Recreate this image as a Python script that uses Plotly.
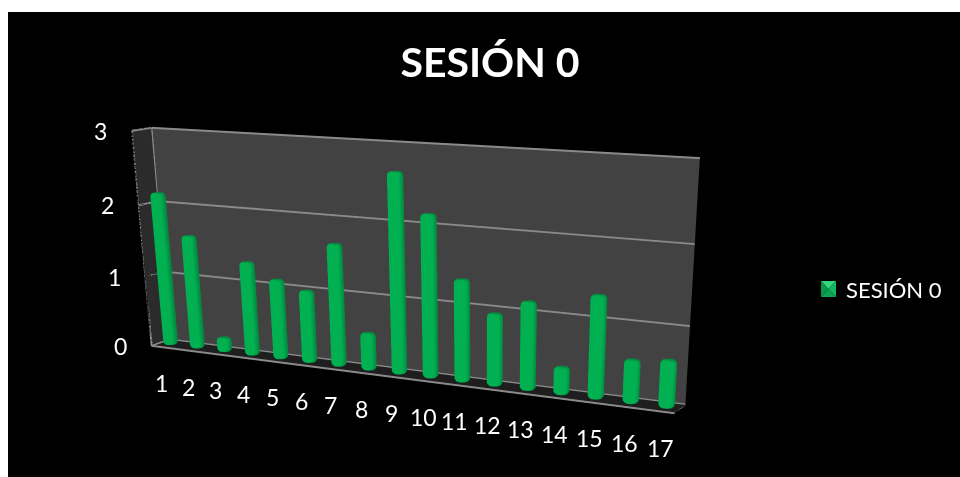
import math
import plotly.graph_objects as go

categories = list(range(1, 18))
values = [2.15, 1.59, 0.19, 1.3, 1.1, 0.99, 1.66, 0.5, 2.65, 2.15, 1.35, 0.95, 1.15, 0.35, 1.32, 0.55, 0.6]
z_ticks = [0, 1, 2, 3]
series_name = "SESIÓN 0"

# A tall canvas gives the scene a long focal length; only the top of it is on screen.
FIG_W, FIG_H = 960, 1200
FONT = "Lato"
ASPECT = dict(x=2.09, y=0.115, z=0.785)
X_RANGE = (0.63, 17.37)
Y_RANGE = (-1.0, 1.0)
Z_RANGE = (0.0, 3.0)
SIDES = 24
BEVEL = 0.05
# Column outline from the foot to the top: radius fraction, distance from the end
PROFILE = [(0.0, 0.0), (0.75, 0.0), (0.96, 0.5), (1.0, 1.0)]
GREY = "#8a8a8a"


def px(x):
    return x / FIG_W


def py(y):
    return 1 - y / FIG_H


def cylinders(cats, vals):
    """Round columns with softened ends for a mesh3d trace, sized in axis units."""
    world_per_x = ASPECT["x"] / (X_RANGE[1] - X_RANGE[0])
    world_per_y = ASPECT["y"] / (Y_RANGE[1] - Y_RANGE[0])
    rx = 0.22
    ry = rx * world_per_x / world_per_y
    xs, ys, zs, ii, jj, kk = [], [], [], [], [], []
    for c, v in zip(cats, vals):
        bev = min(BEVEL, v / 3)
        rings = [(r, h * bev) for r, h in PROFILE] + [(r, v - h * bev) for r, h in reversed(PROFILE)]
        start = len(xs)
        for r, z in rings:
            for s in range(SIDES):
                a = 2 * math.pi * s / SIDES
                xs.append(c + r * rx * math.cos(a))
                ys.append(r * ry * math.sin(a))
                zs.append(z)
        for ring in range(len(rings) - 1):
            for s in range(SIDES):
                n = (s + 1) % SIDES
                p0 = start + ring * SIDES + s
                p1 = start + ring * SIDES + n
                q0 = p0 + SIDES
                q1 = p1 + SIDES
                ii += [p0, p0]
                jj += [p1, q1]
                kk += [q1, q0]
    return xs, ys, zs, ii, jj, kk


xs, ys, zs, ii, jj, kk = cylinders(categories, values)
bars = go.Mesh3d(
    x=xs, y=ys, z=zs, i=ii, j=jj, k=kk,
    color="#00b050", flatshading=False, name=series_name, hoverinfo="skip",
    lighting=dict(ambient=0.8, diffuse=0.3, specular=0.03, roughness=0.8, fresnel=0.0),
    lightposition=dict(x=1000, y=-1800, z=400),
)

x0, x1 = X_RANGE
y0, y1 = Y_RANGE
z0, z1 = Z_RANGE

# Frame edges: left wall outline, back wall top, floor front and back
edge_x = [x0, x0, x0, x0, x0, None, x0, x1, None, x0, x1, x1, None, x0, x1, None]
edge_y = [y1, y0, y0, y1, y1, None, y1, y1, None, y0, y0, y1, None, y1, y1, None]
edge_z = [z1, z1, z0, z0, z1, None, z1, z1, None, z0, z0, z0, None, z0, z0, None]
# Gridlines running around the left and back walls
for t in z_ticks[1:-1]:
    edge_x += [x0, x0, x1, None]
    edge_y += [y0, y1, y1, None]
    edge_z += [t, t, t, None]
frame = go.Scatter3d(x=edge_x, y=edge_y, z=edge_z, mode="lines",
                     line=dict(color=GREY, width=4), hoverinfo="skip", showlegend=False)

hidden = dict(showticklabels=False, showgrid=False, zeroline=False, showline=False,
              ticks="", title="", showspikes=False, showbackground=True)

label_font = dict(size=23, color="white", family=FONT)
annotations = []
for t in z_ticks:
    annotations.append(dict(x=x0, y=y0, z=t, text=str(t), showarrow=False, xshift=-31, yshift=0, font=label_font))
for c in categories:
    annotations.append(dict(x=c, y=y0, z=0, text=str(c), showarrow=False, xshift=0, yshift=-36, font=label_font))

# Legend key: a small square bevelled into four triangles
kx0, kx1, ky0, ky1 = px(821), px(836), py(281), py(297)
kmx, kmy = (kx0 + kx1) / 2, (ky0 + ky1) / 2
key_faces = [
    ((kx0, ky0), (kx1, ky0), "#35d67c"),
    ((kx1, ky0), (kx1, ky1), "#12b860"),
    ((kx1, ky1), (kx0, ky1), "#0ca452"),
    ((kx0, ky1), (kx0, ky0), "#0a9a4c"),
]
key_shapes = [
    dict(type="path", xref="paper", yref="paper",
         path=f"M {a[0]} {a[1]} L {b[0]} {b[1]} L {kmx} {kmy} Z", fillcolor=col, line_width=0)
    for a, b, col in key_faces
]

fig = go.Figure([bars, frame])
fig.update_layout(
    width=FIG_W, height=FIG_H,
    margin=dict(l=0, r=0, t=0, b=0),
    paper_bgcolor="white",
    showlegend=False,
    title=dict(text="<b>SESIÓN 0</b>", x=px(490), y=py(63), xanchor="center", yanchor="middle",
               font=dict(size=41, color="white", family=FONT)),
    scene=dict(
        domain=dict(x=[0, 1], y=[0, 1]),
        bgcolor="rgba(0,0,0,0)",
        aspectmode="manual",
        aspectratio=ASPECT,
        camera=dict(
            projection=dict(type="perspective"),
            up=dict(x=0, y=0, z=1),
            center=dict(x=0.4627, y=-0.3, z=-1.069),
            eye=dict(x=2.45, y=-4.427, z=0.941),
        ),
        xaxis=dict(range=X_RANGE, backgroundcolor="#2b2b2b", **hidden),
        yaxis=dict(range=Y_RANGE, backgroundcolor="#424242", **hidden),
        zaxis=dict(range=Z_RANGE, backgroundcolor="#1e1e1e", **hidden),
        annotations=annotations,
    ),
    shapes=[
        dict(type="rect", xref="paper", yref="paper", x0=px(8), x1=1, y0=0, y1=py(12),
             fillcolor="black", line_width=0, layer="below"),
        *key_shapes,
    ],
    annotations=[
        dict(xref="paper", yref="paper", x=px(844), y=py(289), text=series_name, showarrow=False,
             xanchor="left", yanchor="middle", font=dict(size=22, color="white", family=FONT)),
    ],
)
fig.write_html("out.html")
